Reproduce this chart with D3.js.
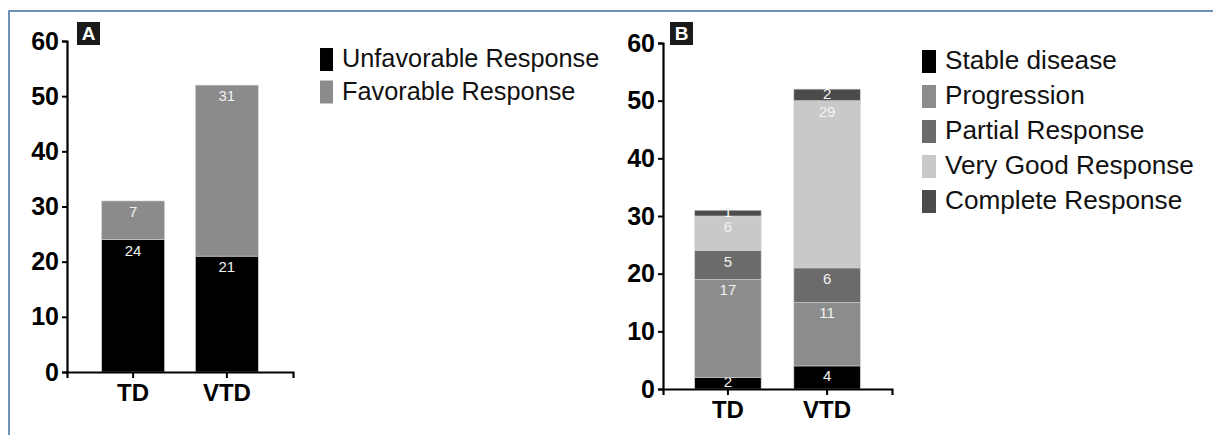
<!DOCTYPE html>
<html>
<head>
<meta charset="utf-8">
<script src="https://cdn.jsdelivr.net/npm/d3@7"></script>
<style>
  body { margin: 0; background: #fff; }
  svg { display: block; font-family: "Liberation Sans", Arial, sans-serif; }
</style>
</head>
<body>
<div id="chart"></div>
<script>
// groups on the x axis
const groups = ['TD', 'VTD'];

// panel A
const seriesA = ['Unfavorable Response', 'Favorable Response'];
const unfavorable = [24, 21];
const favorable = [7, 31];

// panel B
const seriesB = ['Stable disease', 'Progression', 'Partial Response', 'Very Good Response', 'Complete Response'];
const stableDisease = [2, 4];
const progression = [17, 11];
const partialResponse = [5, 6];
const veryGoodResponse = [6, 29];
const completeResponse = [1, 2];

const yTicks = [0, 10, 20, 30, 40, 50, 60];

const width = 1213;
const height = 435;

const svg = d3.select('#chart')
  .append('svg')
  .attr('width', width)
  .attr('height', height)
  .attr('viewBox', [0, 0, width, height]);

// blue frame (top + left edges)
svg.append('path')
  .attr('d', `M9,${height} V11 H${width}`)
  .attr('fill', 'none')
  .attr('stroke', '#3f6d9e')
  .attr('stroke-width', 1.5);

function toRows(values) {
  return groups.map((g, i) => {
    const row = { group: g };
    values.forEach(v => { row[v.key] = v.data[i]; });
    return row;
  });
}

const panels = [
  {
    tag: 'A',
    keys: seriesA,
    rows: toRows([
      { key: seriesA[0], data: unfavorable },
      { key: seriesA[1], data: favorable }
    ]),
    colors: ['#000000', '#8b8b8b'],
    xRange: [67, 293], pad: [0.33, 0.37],
    yRange: [372, 41],
    tagBox: [77, 22, 23, 23],
    legend: { x: 320, y: 48, step: 32.5, sw: 13, sh: 23, fs: 25.3 }
  },
  {
    tag: 'B',
    keys: seriesB,
    rows: toRows([
      { key: seriesB[0], data: stableDisease },
      { key: seriesB[1], data: progression },
      { key: seriesB[2], data: partialResponse },
      { key: seriesB[3], data: veryGoodResponse },
      { key: seriesB[4], data: completeResponse }
    ]),
    colors: ['#000000', '#8c8c8c', '#6b6b6b', '#c9c9c9', '#4b4b4b'],
    xRange: [663, 892], pad: [0.33, 0.32],
    yRange: [389, 43],
    tagBox: [670, 22, 23, 23],
    legend: { x: 922, y: 50, step: 35, sw: 14, sh: 23, fs: 26.2 }
  }
];

panels.forEach(p => {
  const g = svg.append('g');

  const x = d3.scaleBand()
    .domain(groups)
    .range(p.xRange)
    .paddingInner(p.pad[0])
    .paddingOuter(p.pad[1]);

  const y = d3.scaleLinear()
    .domain([0, 60])
    .range(p.yRange);

  const color = d3.scaleOrdinal(p.keys, p.colors);
  const stacked = d3.stack().keys(p.keys)(p.rows);

  // stacked bars
  const layers = g.selectAll('g.layer')
    .data(stacked)
    .join('g')
    .attr('class', 'layer')
    .attr('fill', d => color(d.key));

  layers.selectAll('rect')
    .data(d => d)
    .join('rect')
    .attr('x', d => x(d.data.group))
    .attr('width', x.bandwidth())
    .attr('y', d => y(d[1]))
    .attr('height', d => y(d[0]) - y(d[1]))
    .attr('stroke', '#d0d0d0')
    .attr('stroke-width', 0.6);

  // segment value labels, near the top of each segment
  layers.selectAll('text')
    .data(d => d.map(s => ({ s, key: d.key })))
    .join('text')
    .attr('x', d => x(d.s.data.group) + x.bandwidth() / 2)
    .attr('y', d => {
      const h = y(d.s[0]) - y(d.s[1]);
      return y(d.s[1]) + Math.min(12, h / 2);
    })
    .attr('text-anchor', 'middle')
    .attr('dominant-baseline', 'middle')
    .attr('fill', '#f2f2f2')
    .style('font-size', '15px')
    .text(d => d.s[1] - d.s[0]);

  // y axis
  const yAxis = g.append('g')
    .attr('transform', `translate(${p.xRange[0]},0)`)
    .call(d3.axisLeft(y).tickValues(yTicks).tickSize(5).tickPadding(3));
  yAxis.select('.domain').attr('stroke-width', 2.2);
  yAxis.selectAll('.tick line').attr('stroke-width', 2);
  yAxis.selectAll('.tick text')
    .style('font-size', '25px')
    .style('font-weight', 'bold')
    .attr('fill', '#000');

  // x axis
  const xAxis = g.append('g')
    .attr('transform', `translate(0,${p.yRange[0]})`)
    .call(d3.axisBottom(x).tickSizeOuter(0).tickSize(6).tickPadding(6));
  xAxis.select('.domain').attr('stroke-width', 2.2);
  xAxis.selectAll('.tick line').attr('stroke-width', 2);
  xAxis.selectAll('.tick text')
    .style('font-size', '24px')
    .style('font-weight', 'bold')
    .attr('fill', '#000');

  // panel tag
  const [bx, by, bw, bh] = p.tagBox;
  g.append('rect')
    .attr('x', bx).attr('y', by)
    .attr('width', bw).attr('height', bh)
    .attr('fill', '#1a1a1a');
  g.append('text')
    .attr('x', bx + bw / 2)
    .attr('y', by + bh / 2 + 1)
    .attr('text-anchor', 'middle')
    .attr('dominant-baseline', 'middle')
    .attr('fill', '#fff')
    .style('font-size', '19px')
    .style('font-weight', 'bold')
    .text(p.tag);

  // legend
  const lg = g.append('g')
    .attr('transform', `translate(${p.legend.x},${p.legend.y})`);
  const items = lg.selectAll('g')
    .data(p.keys)
    .join('g')
    .attr('transform', (d, i) => `translate(0,${i * p.legend.step})`);
  items.append('rect')
    .attr('width', p.legend.sw)
    .attr('height', p.legend.sh)
    .attr('fill', d => color(d));
  items.append('text')
    .attr('x', p.legend.sw + 9)
    .attr('y', p.legend.sh / 2 + 1)
    .attr('dominant-baseline', 'middle')
    .attr('fill', '#111')
    .style('font-size', `${p.legend.fs}px`)
    .text(d => d);
});
</script>
</body>
</html>
